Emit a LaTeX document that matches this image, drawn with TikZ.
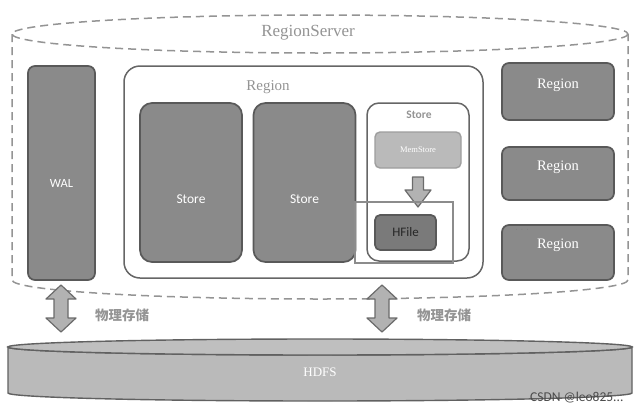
\documentclass[tikz,border=0pt]{standalone}
\usepackage{fontspec}
\setmainfont{Liberation Serif}
\newfontfamily\sansf{Carlito}
\newfontfamily\cjk{Noto Sans CJK SC}
\begin{document}
\begin{tikzpicture}[x=1pt,y=-1pt,
  dashline/.style={draw=black!42, line width=1.5pt, dash pattern=on 8pt off 5pt},
  darkbox/.style={draw=black!65, fill=black!46, line width=1.7pt, rounded corners=7pt, inner sep=0pt},
  whitebox/.style={draw=black!60, fill=white, line width=1.5pt, rounded corners=12pt, inner sep=0pt},
  wtext/.style={text=white, font=\sansf\fontsize{13.5}{13.5}\selectfont},
  rtext/.style={text=white, font=\fontsize{14.5}{14.5}\selectfont},
  gtext/.style={text=black!42},
  blockarrow/.style={fill=black!30, draw=black!58, line width=1.2pt, line join=round}
]
\useasboundingbox (0,0) rectangle (640,410);
\fill[white] (0,0) rectangle (640,410);

% RegionServer dashed cylinder
\draw[dashline] (320,34) ellipse[x radius=308, y radius=19];
\draw[dashline] (12,34) -- (12,280) arc[start angle=180, end angle=0, x radius=308, y radius=19] -- (628,34);
\node[gtext, font=\fontsize{17}{17}\selectfont] (rstitle) at (308,33) {RegionServer};

% WAL
\node[darkbox, minimum width=67, minimum height=214] (wal) at (61.5,173) {};
\node[wtext, font=\sansf\fontsize{12.5}{12.5}\selectfont] (waltext) at ([yshift=-10pt]wal.center) {WAL};

% main Region
\node[whitebox, rounded corners=16pt, minimum width=359, minimum height=212] (reg) at (303.5,172) {};
\node[gtext, font=\fontsize{15}{15}\selectfont] (regtitle) at (268,87) {Region};

% Stores
\node[darkbox, rounded corners=12pt, minimum width=102, minimum height=159] (s1) at (191,182.5) {};
\node[wtext] (s1t) at ([yshift=-17pt]s1.center) {Store};
\node[darkbox, rounded corners=12pt, minimum width=102, minimum height=159] (s2) at (304.5,182.5) {};
\node[wtext] (s2t) at ([yshift=-17pt]s2.center) {Store};
\node[whitebox, minimum width=102, minimum height=158] (s3) at (418,182) {};
\node[gtext, font=\sansf\bfseries\fontsize{11.5}{11.5}\selectfont] (s3t) at (419,115) {Store};

% MemStore
\node[draw=black!38, fill=black!27, line width=1.4pt, rounded corners=5pt, minimum width=86, minimum height=36, inner sep=0pt,
      text=white, font=\fontsize{8.5}{8.5}\selectfont] (mem) at (418,150) {MemStore};

% down arrow
\draw[blockarrow] (412.5,177) -- (423.5,177) -- (423.5,190) -- (431,190) -- (418,207) -- (405,190) -- (412.5,190) -- cycle;

% HFile
\node[darkbox, fill=black!52, rounded corners=5pt, minimum width=61, minimum height=35,
      text=black!85, font=\sansf\fontsize{13}{13}\selectfont] (hfile) at (405.5,232.5) {HFile};

% outline rectangle
\draw[draw=black!45, line width=1.4pt] (355,202) rectangle (453,263);

% right Regions
\node[darkbox, minimum width=112, minimum height=57] (r1) at (558,91.5) {};
\node[rtext] (r1t) at ([yshift=6pt]r1.center) {Region};
\node[darkbox, minimum width=112, minimum height=53] (r2) at (558,173.5) {};
\node[rtext] (r2t) at ([yshift=6pt]r2.center) {Region};
\node[darkbox, minimum width=112, minimum height=55] (r3) at (558,252.5) {};
\node[rtext] (r3t) at ([yshift=7pt]r3.center) {Region};
\node[text=black!55, font=\fontsize{7}{7}\selectfont, inner sep=0pt] (dots) at (522,230) {$\cdot\,\cdot\,\cdot$};

% double arrows
\foreach \cx/\nm in {61/a1, 382/a2}{
  \draw[blockarrow] (\cx,285) -- (\cx+15,299) -- (\cx+7,299) -- (\cx+7,318) -- (\cx+15,318) -- (\cx,332)
    -- (\cx-15,318) -- (\cx-7,318) -- (\cx-7,299) -- (\cx-15,299) -- cycle;
}
\node[gtext, font=\cjk\bfseries\fontsize{13.5}{13.5}\selectfont] (lab1) at (122,315) {物理存储};
\node[gtext, font=\cjk\bfseries\fontsize{13.5}{13.5}\selectfont] (lab2) at (444,315) {物理存储};

% HDFS cylinder
\path[fill=black!27, draw=black!62, line width=1.4pt]
  (8,347) -- (8,393) arc[start angle=180, end angle=0, x radius=312, y radius=8] -- (632,347)
  arc[start angle=0, end angle=180, x radius=312, y radius=8] -- cycle;
\draw[draw=black!62, fill=black!25, line width=1.4pt] (320,347) ellipse[x radius=312, y radius=8];
\node[text=white, font=\fontsize{13}{13}\selectfont] (hdfs) at (320,372) {HDFS};

% watermark
\node[text=black!70, font=\sansf\fontsize{13.5}{13.5}\selectfont, anchor=east] (wm) at (627,398) {CSDN @leo825...};
\end{tikzpicture}
\end{document}
